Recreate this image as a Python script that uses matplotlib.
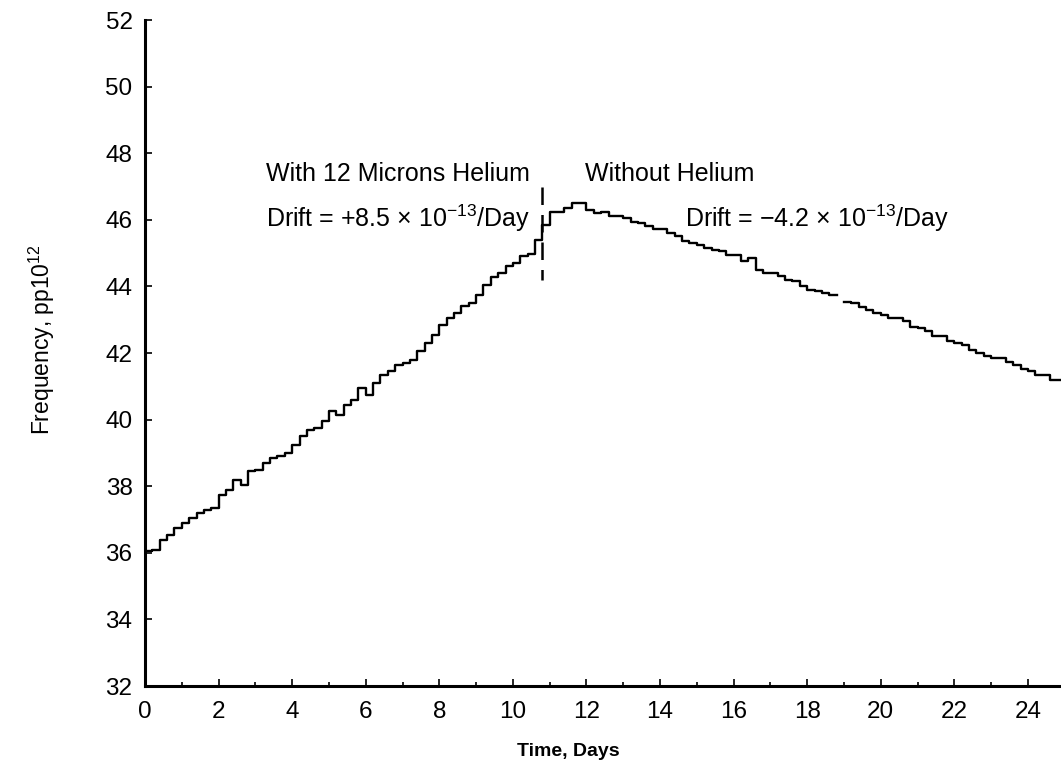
import numpy as np
import matplotlib
matplotlib.use("Agg")
import matplotlib.pyplot as plt

# frequency readings, one value per 0.2 day step (pp10^12)
freq = [36.05, 36.1, 36.4, 36.55, 36.75, 36.9, 37.05, 37.2, 37.3, 37.35,
        37.75, 37.9, 38.2, 38.05, 38.45, 38.5, 38.7, 38.85, 38.9, 39.0,
        39.25, 39.5, 39.7, 39.75, 39.95, 40.25, 40.15, 40.45, 40.6, 40.95,
        40.75, 41.1, 41.35, 41.45, 41.65, 41.7, 41.8, 42.05, 42.3, 42.55,
        42.85, 43.05, 43.2, 43.4, 43.5, 43.75, 44.05, 44.27, 44.4, 44.6,
        44.7, 44.9, 44.96, 45.4, 45.85, 46.25, 46.25, 46.37, 46.5, 46.5,
        46.3, 46.2, 46.25, 46.13, 46.13, 46.07, 45.95, 45.9, 45.8, 45.72,
        45.73, 45.6, 45.5, 45.35, 45.3, 45.23, 45.15, 45.1, 45.05, 44.93,
        44.93, 44.75, 44.85, 44.5, 44.4, 44.4, 44.3, 44.2, 44.16, 44.0,
        43.9, 43.87, 43.8, 43.75, np.nan, 43.52, 43.5, 43.37, 43.3, 43.2,
        43.15, 43.05, 43.05, 42.97, 42.77, 42.74, 42.65, 42.5, 42.5, 42.35,
        42.3, 42.24, 42.1, 42.0, 41.9, 41.85, 41.85, 41.74, 41.65, 41.53,
        41.45, 41.35, 41.35, 41.2, 41.2]
step_days = 0.2

x_ticks = [0, 2, 4, 6, 8, 10, 12, 14, 16, 18, 20, 22, 24]
y_ticks = [32, 34, 36, 38, 40, 42, 44, 46, 48, 50, 52]
switch_day = 10.78

plt.rcParams['font.family'] = ['Liberation Sans', 'DejaVu Sans']
plt.rcParams['mathtext.fontset'] = 'custom'
plt.rcParams['mathtext.rm'] = 'Liberation Sans'
plt.rcParams['mathtext.it'] = 'Liberation Sans'

t = np.arange(len(freq)) * step_days
t_end = np.append(t, t[-1] + step_days)
f_end = np.append(freq, freq[-1])

fig = plt.figure(figsize=(10.61, 7.70), dpi=100)
ax = fig.add_axes([0.1367, 0.109, 0.8633, 0.865])

ax.step(t_end, f_end, where='post', color='black', lw=1.7)
# dashed marker where the helium was removed, drawn top-down
ax.plot([switch_day, switch_day], [47.0, 44.2], color='black', lw=1.8,
        dashes=(7, 4))

ax.set_xlim(0, 24.9)
ax.set_ylim(32, 52)
ax.set_xticks(x_ticks)
ax.set_xticks(range(1, 25, 2), minor=True)
ax.set_yticks(y_ticks)
for s in ['top', 'right']:
    ax.spines[s].set_visible(False)
for s in ['left', 'bottom']:
    ax.spines[s].set_linewidth(2.2)
ax.tick_params(axis='both', which='major', direction='in', length=5,
               width=1.2, labelsize=17.5)
ax.tick_params(axis='x', which='major', pad=11)
ax.tick_params(axis='y', which='major', pad=9)
ax.tick_params(axis='x', which='minor', direction='in', length=3, width=1.2)

fs = 18
ax.text(3.29, 47.37, 'With 12 Microns Helium', fontsize=fs, va='center')
ax.text(3.29, 46.05, 'Drift = +8.5 \u00d7 10$^{-13}$/Day', fontsize=fs,
        va='center')
ax.text(11.96, 47.37, 'Without Helium', fontsize=fs, va='center')
ax.text(14.67, 46.05, 'Drift = \u22124.2 \u00d7 10$^{-13}$/Day', fontsize=fs,
        va='center')

fig.text(568 / 1061, 1 - 752 / 770, 'Time, Days', fontsize=14,
         fontweight='bold', ha='center', va='center')
fig.text(42 / 1061, 1 - 340 / 770, 'Frequency, pp10$^{12}$', fontsize=16.5,
         ha='center', va='center', rotation=90)

fig.savefig('out.png', dpi=100)
